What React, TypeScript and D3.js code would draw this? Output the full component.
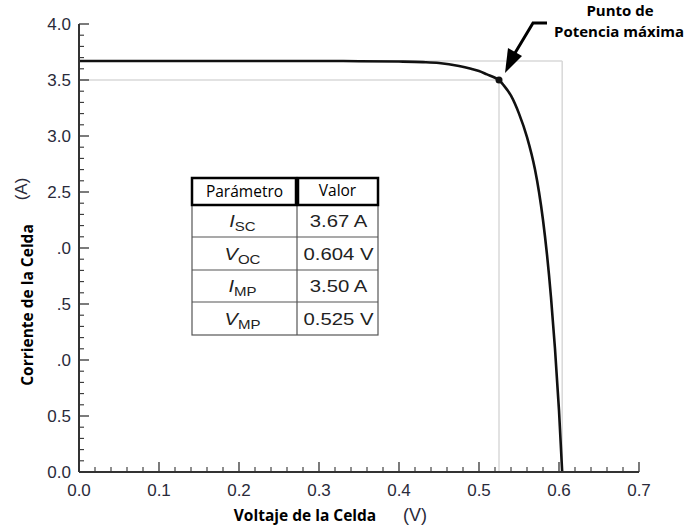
import React from "react";
import * as d3 from "d3";

const voltage = [0, 0.1, 0.2, 0.3, 0.35, 0.4, 0.43, 0.45, 0.475, 0.49, 0.5, 0.51, 0.52, 0.525, 0.53, 0.54, 0.55, 0.56, 0.57, 0.575, 0.58, 0.585, 0.59, 0.595, 0.6, 0.604];
const current = [3.67, 3.67, 3.67, 3.67, 3.668, 3.665, 3.66, 3.652, 3.625, 3.6, 3.58, 3.55, 3.52, 3.5, 3.46, 3.36, 3.2, 2.99, 2.7, 2.5, 2.25, 1.94, 1.56, 1.1, 0.55, 0];

const xTicks = [0, 0.1, 0.2, 0.3, 0.4, 0.5, 0.6, 0.7];
const xTickLabels = ["0.0", "0.1", "0.2", "0.3", "0.4", "0.5", "0.6", "0.7"];
const yTicks = [0, 0.5, 1, 1.5, 2, 2.5, 3, 3.5, 4];
const yTickLabels = ["0.0", "0.5", ".0", ".5", ".0", "2.5", "3.0", "3.5", "4.0"];

const Isc = 3.67;
const Voc = 0.604;
const Imp = 3.5;
const Vmp = 0.525;

const paramNames = [
  { main: "I", sub: "SC" },
  { main: "V", sub: "OC" },
  { main: "I", sub: "MP" },
  { main: "V", sub: "MP" },
];
const paramValues = ["3.67 A", "0.604 V", "3.50 A", "0.525 V"];

export default function App() {
  const W = 690, H = 527;
  const x = d3.scaleLinear().domain([0, 0.7]).range([79, 639]);
  const y = d3.scaleLinear().domain([0, 4]).range([472, 24]);

  const pts = voltage.map((v, i) => [v, current[i]] as [number, number]);
  const line = d3.line<[number, number]>().x(d => x(d[0])).y(d => y(d[1])).curve(d3.curveMonotoneX);

  const yMinor = d3.range(0, 41).map(i => i / 10).filter((_, i) => i % 5 !== 0);
  const xMinor = d3.range(0, 36).map(i => i / 50).filter((_, i) => i % 5 !== 0);

  const axisColor = "#333";
  const tickFont = "'Liberation Sans', Arial, Helvetica, sans-serif";
  const boldFont = "'Open Sans', 'Noto Sans', sans-serif";

  const tx0 = 192, tx1 = 297, tx2 = 378;
  const headTop = 178, headBot = 205;
  const rowBots = [237, 270, 302, 335];

  return (
    <svg width={W} height={H} style={{ position: "absolute", left: 0, top: 0, background: "#fff" }}>
      <rect x={0} y={0} width={W} height={H} fill="#fff" />
      <g stroke="#d8d8d8" strokeWidth={1.5} fill="none">
        <line x1={x(0)} x2={x(Vmp)} y1={y(Imp)} y2={y(Imp)} />
        <line x1={x(Vmp)} x2={x(Vmp)} y1={y(Imp)} y2={y(0)} />
        <line x1={x(0)} x2={x(Voc)} y1={y(Isc)} y2={y(Isc)} />
        <line x1={x(Voc)} x2={x(Voc)} y1={y(Isc)} y2={y(0)} />
      </g>

      <path d={line(pts) || ""} fill="none" stroke="#111" strokeWidth={2.6} />
      <circle cx={x(Vmp)} cy={y(Imp)} r={3.5} fill="#111" />

      <line x1={x(0)} x2={x(0)} y1={y(4)} y2={y(0)} stroke={axisColor} strokeWidth={2} />
      <line x1={x(0)} x2={x(0.7)} y1={y(0)} y2={y(0)} stroke={axisColor} strokeWidth={2} />
      {yTicks.map(t => (
        <line key={"ym" + t} x1={x(0)} x2={x(0) + 10} y1={y(t)} y2={y(t)} stroke={axisColor} strokeWidth={1.3} />
      ))}
      {yMinor.map(t => (
        <line key={"yn" + t} x1={x(0)} x2={x(0) + 5} y1={y(t)} y2={y(t)} stroke={axisColor} strokeWidth={1.1} />
      ))}
      {xTicks.map(t => (
        <line key={"xm" + t} x1={x(t)} x2={x(t)} y1={y(0)} y2={y(0) - 10} stroke={axisColor} strokeWidth={1.3} />
      ))}
      {xMinor.map(t => (
        <line key={"xn" + t} x1={x(t)} x2={x(t)} y1={y(0)} y2={y(0) - 5} stroke={axisColor} strokeWidth={1.1} />
      ))}
      {yTicks.map((t, i) => (
        <text key={"yl" + t} x={71} y={y(t)} dy="0.36em" textAnchor="end" fontFamily={tickFont} fontSize={17} fill="#2a2a3a">
          {yTickLabels[i]}
        </text>
      ))}
      {xTicks.map((t, i) => (
        <text key={"xl" + t} x={x(t)} y={496} textAnchor="middle" fontFamily={tickFont} fontSize={17} fill="#2a2a3a">
          {xTickLabels[i]}
        </text>
      ))}

      <text x={305} y={521} textAnchor="middle" fontFamily={boldFont} fontWeight="bold" fontSize={15.5} fill="#000">
        Voltaje de la Celda
      </text>
      <text x={415} y={521} textAnchor="middle" fontFamily={tickFont} fontSize={18} fill="#2a2a3a">(V)</text>
      <text transform="translate(33,305) rotate(-90)" textAnchor="middle" fontFamily={boldFont} fontWeight="bold" fontSize={15.5} fill="#000">
        Corriente de la Celda
      </text>
      <text transform="translate(27,189) rotate(-90)" textAnchor="middle" fontFamily={tickFont} fontSize={17} fill="#2a2a3a">(A)</text>

      <text x={620} y={16} textAnchor="middle" fontFamily={boldFont} fontWeight="bold" fontSize={15} fill="#000">Punto de</text>
      <text x={619} y={37} textAnchor="middle" fontFamily={boldFont} fontWeight="bold" fontSize={15} fill="#000">Potencia máxima</text>
      <polyline points="547,23 533,23 515,53" fill="none" stroke="#000" strokeWidth={3} />
      <polygon points="505,73 508,48 522,56" fill="#000" />

      <g>
        <rect x={tx0} y={headBot} width={tx2 - tx0} height={rowBots[3] - headBot} fill="#fff" stroke="#555" strokeWidth={1.2} />
        <line x1={tx1} x2={tx1} y1={headBot} y2={rowBots[3]} stroke="#555" strokeWidth={1.2} />
        {rowBots.slice(0, 3).map(b => (
          <line key={"rb" + b} x1={tx0} x2={tx2} y1={b} y2={b} stroke="#555" strokeWidth={1.2} />
        ))}
        <rect x={tx0} y={headTop} width={tx1 - tx0 - 1} height={headBot - headTop} fill="#fff" stroke="#000" strokeWidth={2.5} />
        <rect x={tx1 + 1} y={headTop} width={tx2 - tx1 - 1} height={headBot - headTop} fill="#fff" stroke="#000" strokeWidth={2.5} />
        <text x={(tx0 + tx1) / 2} y={197} textAnchor="middle" fontFamily={boldFont} fontSize={15.5} fill="#000">Parámetro</text>
        <text x={(tx1 + tx2) / 2} y={196} textAnchor="middle" fontFamily={boldFont} fontSize={15.5} fill="#000">Valor</text>
        {paramNames.map((p, i) => {
          const top = i === 0 ? headBot : rowBots[i - 1];
          const cy = (top + rowBots[i]) / 2;
          return (
            <g key={"pn" + i} transform={`translate(${(tx0 + tx1) / 2 - 2},${cy + 6}) scale(1.25,1)`}>
              <text textAnchor="middle" fontFamily={tickFont} fontSize={16} fill="#222">
                <tspan fontStyle="italic">{p.main}</tspan>
                <tspan fontSize={12} dy={4}>{p.sub}</tspan>
              </text>
            </g>
          );
        })}
        {paramValues.map((v, i) => {
          const top = i === 0 ? headBot : rowBots[i - 1];
          const cy = (top + rowBots[i]) / 2;
          return (
            <g key={"pv" + i} transform={`translate(${(tx1 + tx2) / 2 + 1},${cy + 6}) scale(1.27,1)`}>
              <text textAnchor="middle" fontFamily={tickFont} fontSize={16} fill="#222">{v}</text>
            </g>
          );
        })}
      </g>
    </svg>
  );
}
